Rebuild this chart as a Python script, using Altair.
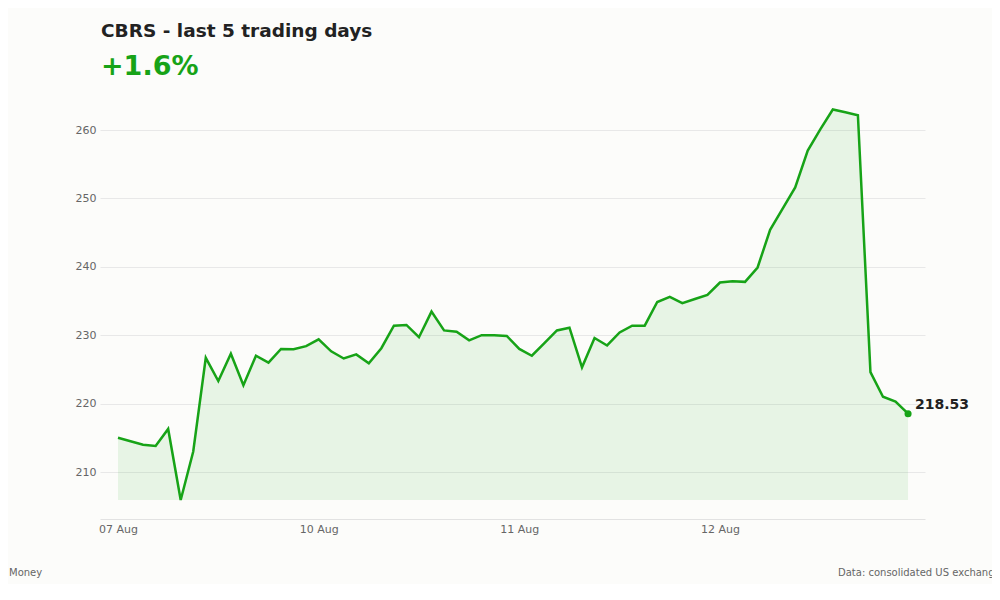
import altair as alt
import pandas as pd

# 5-day intraday closes (16 points per day)
prices = [
    215.0, 214.5, 214.0, 213.8, 216.3, 205.9, 213.0, 226.7,
    223.3, 227.3, 222.7, 227.0, 226.0, 228.0, 227.95, 228.4,
    229.4, 227.65, 226.6, 227.2, 225.9, 228.1, 231.4, 231.5,
    229.7, 233.45, 230.7, 230.5, 229.25, 230.0, 230.0, 229.9,
    228.0, 227.0, 228.85, 230.7, 231.1, 225.3, 229.6, 228.5,
    230.4, 231.4, 231.4, 234.85, 235.6, 234.7, 235.3, 235.9,
    237.7, 237.9, 237.8, 239.9, 245.4, 248.5, 251.6, 257.0,
    260.1, 263.0, 262.6, 262.15, 224.6, 221.0, 220.3, 218.53,
]
day_labels = ["07 Aug", "10 Aug", "11 Aug", "12 Aug"]
day_starts = [0, 16, 32, 48]
y_ticks = [210, 220, 230, 240, 250, 260]

ticker = "CBRS"
title_text = f"{ticker} - last 5 trading days"
change_text = "+1.6%"
source_left = "Money"
source_right = "Data: consolidated US exchange data"

GREEN = "#17a317"
DARK = "#222222"
GREY = "#666666"
FONT = "DejaVu Sans"

df = pd.DataFrame({"i": list(range(len(prices))), "price": prices})
last = df.tail(1).assign(label=f"{prices[-1]:.2f}")

# x tick labels from the day arrays
label_expr = "''"
for s, lab in reversed(list(zip(day_starts, day_labels))):
    label_expr = f"datum.value == {s} ? '{lab}' : ({label_expr})"

x = alt.X("i:Q", scale=alt.Scale(domain=[-1.435, 64.35], nice=False, zero=False),
          axis=alt.Axis(values=day_starts, labelExpr=label_expr, grid=False, ticks=False,
                        domain=True, domainColor="#e2e2e2", labelColor=GREY, labelFontSize=11,
                        labelPadding=4, labelFont=FONT, title=None))
y = alt.Y("price:Q", scale=alt.Scale(domain=[203.13, 265.85], nice=False, zero=False),
          axis=alt.Axis(values=y_ticks, grid=True, gridColor="#e8e8e8", ticks=False, domain=False,
                        labelColor=GREY, labelFontSize=11, labelPadding=4, labelFont=FONT,
                        format="d", title=None))

base = alt.Chart(df)

area = base.transform_joinaggregate(lo="min(price)").mark_area(
    color=GREEN, opacity=0.09
).encode(x=x, y=y, y2="lo:Q")

line = base.mark_line(color=GREEN, strokeWidth=2.5).encode(x=x, y=y)

dot = alt.Chart(last).mark_circle(color=GREEN, size=50, opacity=1).encode(x=x, y=y)

end_label = alt.Chart(last).mark_text(
    align="left", baseline="alphabetic", dx=7, dy=-5, fontSize=14,
    fontWeight="bold", color=DARK, font=FONT
).encode(x=x, y=y, text="label:N")

def note(text, px, py, size, color, weight="normal", align="left"):
    return alt.Chart(pd.DataFrame({"t": [text]})).mark_text(
        align=align, baseline="alphabetic", fontSize=size, fontWeight=weight,
        color=color, font=FONT
    ).encode(x=alt.value(px), y=alt.value(py), text="t:N")

title = note(title_text, 1, -53, 18.5, DARK, "bold")
change = note(change_text, 1, -15, 27, GREEN, "bold")
left_src = note(source_left, -91, 486, 10, GREY)
right_src = note(source_right, 738, 486, 10, GREY)

chart = alt.layer(area, line, dot, end_label, title, change, left_src, right_src).properties(
    width=825,
    height=429,
    autosize=alt.AutoSizeParams(type="none"),
    padding={"left": 92, "top": 82, "right": 67, "bottom": 65},
    background="#fcfcfa",
).configure_view(stroke=None)

chart.save("out.html", embed_options={"renderer": "svg", "actions": False})
